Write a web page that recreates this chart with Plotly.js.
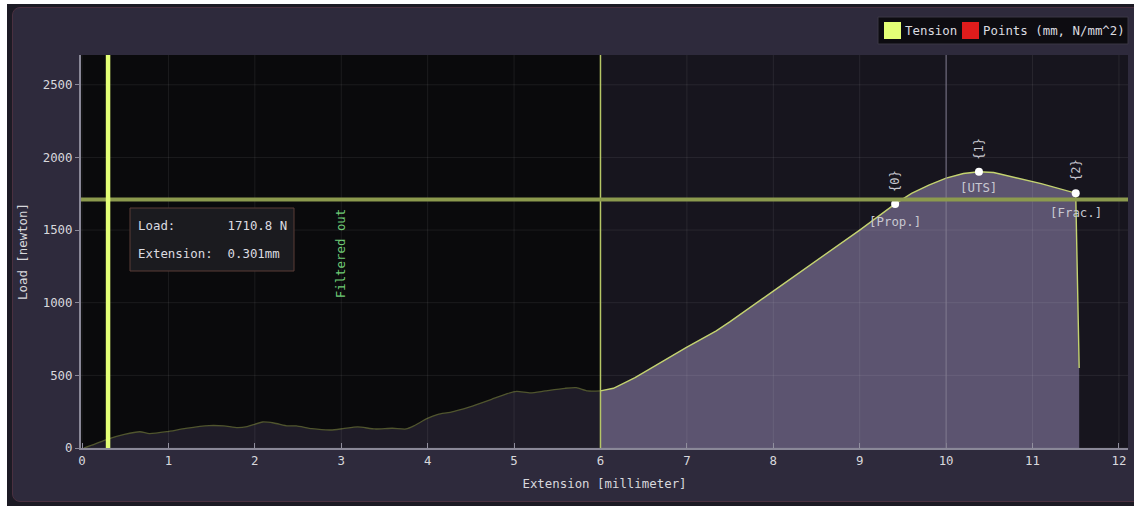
<!DOCTYPE html>
<html>
<head>
<meta charset="utf-8">
<script src="https://cdn.plot.ly/plotly-3.0.1.min.js"></script>
<style>
  html, body { margin: 0; padding: 0; background: #ffffff; width: 1134px; height: 506px; overflow: hidden; }
  #outer { position: absolute; left: 7px; top: 4px; width: 1127px; height: 502px; background: #1c1a24; }
  #panel { position: absolute; left: 12px; top: 7px; width: 1130px; height: 495px; background: #2e2a3c;
           border: 1px solid #4a3040; border-radius: 8px; box-sizing: border-box; }
  #chart { position: absolute; left: 0; top: 0; width: 1134px; height: 506px; }
</style>
</head>
<body>
<div id="outer"></div>
<div id="panel"></div>
<div id="chart"></div>
<script>
// ---- data ----
const extension = [0.02, 0.14, 0.29, 0.49, 0.67, 0.78, 0.98, 1.20, 1.47, 1.64, 1.80, 1.91, 2.09, 2.22, 2.38, 2.48,
  2.66, 2.88, 3.02, 3.19, 3.39, 3.59, 3.75, 3.84, 3.99, 4.12, 4.26, 4.48, 4.74, 4.92, 5.03, 5.19, 5.36, 5.59,
  5.72, 5.85, 6.00, 6.15, 6.40, 6.70, 6.99, 7.34, 7.50, 8.00, 8.50, 9.00, 9.41, 9.60, 9.80, 10.00, 10.20, 10.38,
  10.55, 10.80, 11.10, 11.50, 11.52, 11.54];
const load = [0, 25, 60, 94, 112, 99, 112, 135, 154, 152, 140, 147, 179, 172, 152, 152,
  133, 124, 133, 145, 131, 136, 131, 152, 202, 232, 246, 282, 335, 374, 390, 379, 393, 411,
  415, 393, 393, 411, 484, 588, 691, 806, 870, 1080, 1290, 1500, 1680, 1752, 1810, 1858, 1889, 1901,
  1896, 1862, 1820, 1754, 1200, 550];
const pointExt = [9.41, 10.38, 11.50];
const pointLoad = [1680, 1901, 1754];
const pointIds = ["{0}", "{1}", "{2}"];
const pointNames = ["[Prop.]", "[UTS]", "[Frac.]"];
const filterLimit = 6;
const cursorExt = 0.301;
const cursorLoad = 1710.8;
const hoverExt = 10;
const xTicks = [0, 1, 2, 3, 4, 5, 6, 7, 8, 9, 10, 11, 12];
const yTicks = [0, 500, 1000, 1500, 2000, 2500];
const legendNames = ["Tension", "Points (mm, N/mm^2)"];

// ---- build ----
const FONT = '"DejaVu Sans Mono", "Liberation Mono", monospace';
const xRange = [-0.012, 12.105];
const yRange = [0, 2705];

const filtX = [], filtY = [], keptX = [], keptY = [];
extension.forEach((e, i) => {
  if (e <= filterLimit) { filtX.push(e); filtY.push(load[i]); }
  if (e >= filterLimit) { keptX.push(e); keptY.push(load[i]); }
});

const traces = [
  { x: filtX, y: filtY, type: 'scatter', mode: 'lines', fill: 'tozeroy',
    fillcolor: '#1f1c28', line: { color: '#50552e', width: 1.3, shape: 'spline', smoothing: 0.6 },
    hoverinfo: 'skip', showlegend: false },
  { x: keptX, y: keptY, type: 'scatter', mode: 'lines', fill: 'tozeroy',
    fillcolor: '#5c5470', line: { color: '#c4d370', width: 1.4 },
    hoverinfo: 'skip', showlegend: false },
  { x: pointExt, y: pointLoad, type: 'scatter', mode: 'markers',
    marker: { color: '#ffffff', size: 8 }, hoverinfo: 'skip', showlegend: false }
];

const shapes = [];
// filtered-out background region
shapes.push({ type: 'rect', xref: 'x', yref: 'paper', x0: xRange[0], x1: filterLimit, y0: 0, y1: 1,
  fillcolor: '#0a0a0c', line: { width: 0 }, layer: 'below' });
// grid lines above fills
xTicks.forEach(t => shapes.push({ type: 'line', xref: 'x', yref: 'paper', x0: t, x1: t, y0: 0, y1: 1,
  line: { color: 'rgba(255,255,255,0.075)', width: 1 }, layer: 'above' }));
yTicks.forEach(t => shapes.push({ type: 'line', xref: 'paper', yref: 'y', x0: 0, x1: 1, y0: t, y1: t,
  line: { color: 'rgba(255,255,255,0.075)', width: 1 }, layer: 'above' }));
// hover line
shapes.push({ type: 'line', xref: 'x', yref: 'paper', x0: hoverExt, x1: hoverExt, y0: 0, y1: 1,
  line: { color: '#7d778c', width: 1 }, layer: 'above' });
// filter limit line
shapes.push({ type: 'line', xref: 'x', yref: 'paper', x0: filterLimit, x1: filterLimit, y0: 0, y1: 1,
  line: { color: '#b6c666', width: 1.5 }, layer: 'above' });
// cursor lines
shapes.push({ type: 'line', xref: 'paper', yref: 'y', x0: 0, x1: 1, y0: cursorLoad, y1: cursorLoad,
  line: { color: '#8c9a4e', width: 4 }, layer: 'above' });
shapes.push({ type: 'line', xref: 'x', yref: 'paper', x0: cursorExt, x1: cursorExt, y0: 0, y1: 1,
  line: { color: '#e4ff76', width: 4.5 }, layer: 'above' });

// plot area in pixels: left 81, right 1128, top 55, bottom 448
const PL = 81, PR = 1128, PT = 55, PB = 448;
const px = v => (v - PL) / (PR - PL);
const py = v => (PB - v) / (PB - PT);

// tooltip box
shapes.push({ type: 'rect', xref: 'paper', yref: 'paper', x0: px(130), x1: px(294), y0: py(271), y1: py(208),
  fillcolor: '#1b1b1f', line: { color: '#5a3c36', width: 1 }, layer: 'above' });
// legend box and swatches
shapes.push({ type: 'rect', xref: 'paper', yref: 'paper', x0: px(878), x1: px(1128), y0: py(44), y1: py(17),
  fillcolor: '#0d0c11', line: { color: '#3a3744', width: 1 }, layer: 'above' });
shapes.push({ type: 'rect', xref: 'paper', yref: 'paper', x0: px(884), x1: px(901), y0: py(39), y1: py(22),
  fillcolor: '#e4ff76', line: { width: 0 }, layer: 'above' });
shapes.push({ type: 'rect', xref: 'paper', yref: 'paper', x0: px(962), x1: px(979), y0: py(39), y1: py(22),
  fillcolor: '#e01c1c', line: { width: 0 }, layer: 'above' });

const txt = '#dcdce0';
const annotations = [];
const nb = s => s.replace(/ /g, '\u00a0');
annotations.push({ xref: 'paper', yref: 'paper', x: px(136), y: py(225), xanchor: 'left', yanchor: 'middle',
  text: nb('Load:       ' + cursorLoad.toFixed(1) + ' N'), showarrow: false, font: { family: FONT, size: 12.4, color: txt } });
annotations.push({ xref: 'paper', yref: 'paper', x: px(136), y: py(254), xanchor: 'left', yanchor: 'middle',
  text: nb('Extension:  ' + cursorExt.toFixed(3) + 'mm'), showarrow: false, font: { family: FONT, size: 12.4, color: txt } });
annotations.push({ xref: 'x', yref: 'paper', x: filterLimit / 2, y: py(253), xanchor: 'center', yanchor: 'middle',
  text: 'Filtered out', textangle: -90, showarrow: false, font: { family: FONT, size: 12.4, color: '#6fcb76' } });
annotations.push({ xref: 'paper', yref: 'paper', x: px(903), y: py(30.5), xanchor: 'left', yanchor: 'middle',
  text: legendNames[0], showarrow: false, font: { family: FONT, size: 12.4, color: txt } });
annotations.push({ xref: 'paper', yref: 'paper', x: px(981), y: py(30.5), xanchor: 'left', yanchor: 'middle',
  text: nb(legendNames[1]), showarrow: false, font: { family: FONT, size: 12.4, color: txt } });
const nameShift = [-18, -16, -19];
pointExt.forEach((e, i) => {
  annotations.push({ xref: 'x', yref: 'y', x: e, y: pointLoad[i], yshift: 23, xanchor: 'center', yanchor: 'middle',
    text: pointIds[i], textangle: -90, showarrow: false, font: { family: FONT, size: 12, color: '#c8c8d0' } });
  annotations.push({ xref: 'x', yref: 'y', x: e, y: pointLoad[i], yshift: nameShift[i], xanchor: 'center', yanchor: 'middle',
    text: pointNames[i], showarrow: false, font: { family: FONT, size: 12.4, color: '#c8c8d0' } });
});

const axisCommon = {
  showgrid: false, zeroline: false, showline: true, linecolor: '#8a8898', linewidth: 2,
  tickcolor: '#8a8898', tickfont: { family: FONT, size: 12.4, color: '#d8d8dc' }, fixedrange: true
};

const layout = {
  width: 1134, height: 506,
  margin: { l: PL, r: 1134 - PR, t: PT, b: 506 - PB, pad: 0 },
  paper_bgcolor: 'rgba(0,0,0,0)', plot_bgcolor: '#17151e',
  showlegend: false,
  xaxis: Object.assign({}, axisCommon, {
    range: xRange, tickvals: xTicks, ticks: 'inside', ticklen: 5,
    title: { text: 'Extension [millimeter]', font: { family: FONT, size: 12.4, color: '#d8d8dc' }, standoff: 12 }
  }),
  yaxis: Object.assign({}, axisCommon, {
    range: yRange, tickvals: yTicks, ticks: 'outside', ticklen: 4,
    title: { text: 'Load [newton]', font: { family: FONT, size: 12.4, color: '#d8d8dc' }, standoff: 12 }
  }),
  shapes: shapes,
  annotations: annotations
};

Plotly.newPlot('chart', traces, layout, { displayModeBar: false, staticPlot: true });
</script>
</body>
</html>
